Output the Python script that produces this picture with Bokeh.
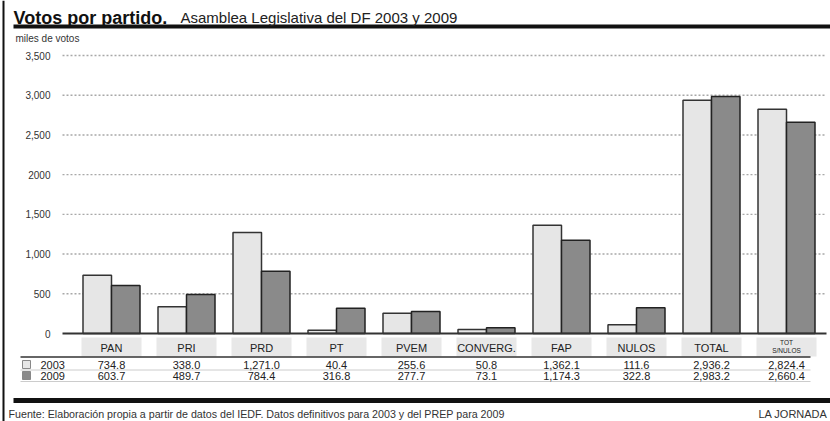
from bokeh.plotting import figure
from bokeh.models import Range1d, LinearAxis, FixedTicker
from bokeh.core.properties import value
from bokeh.embed import file_html
from bokeh.resources import INLINE

# ---------------- data ----------------
categories = ["PAN", "PRI", "PRD", "PT", "PVEM", "CONVERG.", "FAP", "NULOS", "TOTAL", "TOT\nS/NULOS"]
votes_2003 = [734.8, 338.0, 1271.0, 40.4, 255.6, 50.8, 1362.1, 111.6, 2936.2, 2824.4]
votes_2009 = [603.7, 489.7, 784.4, 316.8, 277.7, 73.1, 1174.3, 322.8, 2983.2, 2660.4]
series_names = ["2003", "2009"]
y_ticks = [0, 500, 1000, 1500, 2000, 2500, 3000, 3500]
y_tick_labels = ["0", "500", "1,000", "1,500", "2000", "2,500", "3,000", "3,500"]
title_bold = "Votos por partido."
title_rest = "Asamblea Legislativa del DF 2003 y 2009"
y_title = "miles de votos"
source_note = "Fuente: Elaboración propia a partir de datos del IEDF. Datos definitivos para 2003 y del PREP para 2009"
credit = "LA JORNADA"

# ---------------- layout constants ----------------
W, H = 830, 421
PX_PER_CAT = 75.0
CAT0_PX = 111.0
BASE_PX = 333.0
TOP_PX = 55.0
K = (BASE_PX - TOP_PX) / 3500.0
FONT = "Liberation Sans"

C2003 = "#e6e6e6"
C2009 = "#8a8a8a"
EDGE = "#333333"


def X(px):
    return (px - CAT0_PX) / PX_PER_CAT


def Y(py):
    return (BASE_PX - py) / K


p = figure(width=W, height=H, x_range=Range1d(X(0), X(W)), y_range=Range1d(Y(H), Y(0)),
           x_axis_type=None, y_axis_type=None, output_backend="svg", toolbar_location=None,
           min_border=0, min_border_left=0, min_border_right=0, min_border_top=0, min_border_bottom=0,
           outline_line_color=None, background_fill_color="white", border_fill_color="white")


def txt(px, py, s, size, bold=False, align="left", baseline="alphabetic", color="#222222"):
    p.text(x=[X(px)], y=[Y(py)], text=[s], text_font=value(FONT), text_font_size=value(f"{size}px"),
           text_font_style="bold" if bold else "normal", text_align=align, text_baseline=baseline,
           text_color=color)


idx = list(range(len(categories)))

# gridlines (dotted)
grid_vals = y_ticks[1:]
p.segment(x0=[X(62)] * len(grid_vals), x1=[X(826)] * len(grid_vals), y0=grid_vals, y1=grid_vals,
          line_color="#a8a8a8", line_width=1.4, line_dash="2 2")

# bars
BW = 0.38
p.vbar(x=[i - BW / 2 for i in idx], top=votes_2003, bottom=0, width=BW,
       fill_color=C2003, line_color=EDGE, line_width=1.5)
p.vbar(x=[i + BW / 2 for i in idx], top=votes_2009, bottom=0, width=BW,
       fill_color=C2009, line_color="#222222", line_width=1.5)

# baseline
p.segment(x0=[X(62)], x1=[X(826)], y0=[0], y1=[0], line_color="#333333", line_width=2)

# y axis (fixed inside the frame)
yaxis = LinearAxis(ticker=FixedTicker(ticks=y_ticks), fixed_location=X(56),
                   major_label_overrides={t: lab for t, lab in zip(y_ticks, y_tick_labels)},
                   axis_line_color=None, major_tick_line_color=None, minor_tick_line_color=None,
                   major_tick_in=0, major_tick_out=0, major_label_standoff=6,
                   major_label_text_font=FONT, major_label_text_font_size="10px",
                   major_label_text_color="#333333")
p.add_layout(yaxis, "left")

# ---------------- table ----------------
p.quad(left=[i - 0.4 for i in idx], right=[i + 0.4 for i in idx],
       top=[Y(337)] * len(idx), bottom=[Y(356)] * len(idx), fill_color="#e8e8e8", line_color=None)
n_main = len(categories) - 1
p.text(x=idx[:n_main], y=[Y(347)] * n_main, text=categories[:n_main], text_font=value(FONT),
       text_font_size=value("11px"), text_align="center", text_baseline="middle", text_color="#222222")
p.text(x=idx[n_main:], y=[Y(346)], text=categories[n_main:], text_font=value(FONT),
       text_font_size=value("6.5px"), text_align="center", text_baseline="middle",
       text_line_height=1.1, text_color="#222222")

p.segment(x0=[X(20)], x1=[X(810)], y0=[Y(356.5)], y1=[Y(356.5)], line_color="#333333", line_width=1.6)
p.segment(x0=[X(20)] * 2, x1=[X(810)] * 2, y0=[Y(369.5), Y(381)], y1=[Y(369.5), Y(381)],
          line_color="#cccccc", line_width=1)

row_py = [364, 375]
for series, vals, col, py in zip(series_names, [votes_2003, votes_2009], [C2003, C2009], row_py):
    p.rect(x=[X(26)], y=[Y(py)], width=8, height=8, width_units="screen", height_units="screen",
           fill_color=col, line_color="#888888", line_width=1)
    txt(40, py, series, 11, baseline="middle")
    p.text(x=idx, y=[Y(py)] * len(idx), text=[f"{v:,.1f}" for v in vals], text_font=value(FONT),
           text_font_size=value("11px"), text_align="center", text_baseline="middle", text_color="#222222")

# ---------------- frame decorations ----------------
p.segment(x0=[X(13)], x1=[X(830)], y0=[Y(26)], y1=[Y(26)], line_color="#111111", line_width=4)
p.segment(x0=[X(13)], x1=[X(830)], y0=[Y(400)], y1=[Y(400)], line_color="#111111", line_width=5)
p.segment(x0=[X(3)], x1=[X(3)], y0=[Y(0)], y1=[Y(H)], line_color="#111111", line_width=2)

txt(13, 17, title_bold, 18, bold=True, color="#111111")
txt(180, 17, title_rest, 15, color="#222222")
txt(15, 38, y_title, 10, baseline="middle", color="#333333")
txt(8, 413, source_note, 10.7, baseline="middle", color="#333333")
txt(827, 413, credit, 11, align="right", baseline="middle", color="#333333")

open("out.html", "w").write(file_html(p, INLINE))
